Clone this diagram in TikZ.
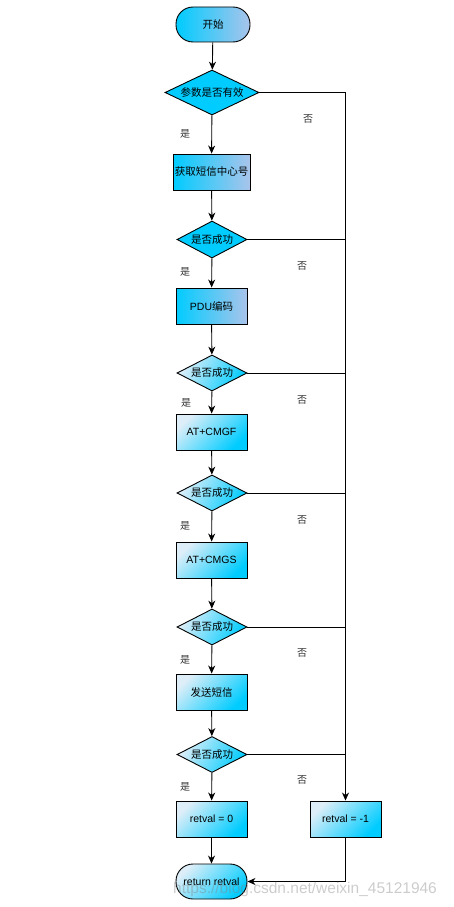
\documentclass[tikz,border=0pt]{standalone}
\usepackage{fontspec}
\setmainfont{Liberation Sans}
\newfontfamily\cjk{Noto Sans CJK SC}
\usetikzlibrary{shapes.geometric,arrows.meta}
\definecolor{cy}{HTML}{00CCFF}
\definecolor{lp}{HTML}{A9C4EB}
\definecolor{lw}{HTML}{DDEEF8}
\begin{document}
\begin{tikzpicture}[x=1pt,y=-1pt,
  every node/.style={font=\fontsize{10.5}{12}\selectfont, inner sep=0pt},
  base/.style={draw=black, line width=0.9pt},
  termA/.style={base, rectangle, rounded corners=17pt, minimum width=74pt, minimum height=35pt, left color=cy, right color=lp},
  termB/.style={base, rectangle, rounded corners=17pt, minimum width=71pt, minimum height=35pt, top color=lw, bottom color=cy, shading angle=45},
  boxA/.style={base, rectangle, minimum width=71pt, minimum height=36pt, left color=cy, right color=lp},
  boxB/.style={base, rectangle, minimum width=71pt, minimum height=36pt, top color=lw, bottom color=cy, shading angle=45},
  decS/.style={base, diamond, aspect=1.9, minimum width=70pt, minimum height=37pt, fill=cy},
  decB/.style={base, diamond, aspect=1.9, minimum width=70pt, minimum height=36pt, top color=lw, bottom color=cy, shading angle=60},
  lab/.style={font=\cjk\fontsize{10}{12}\selectfont, text=black!80},
  flow/.style={line width=0.9pt, -{Stealth[length=8pt,width=7pt,inset=2.5pt]}},
  ln/.style={line width=0.9pt}]
\useasboundingbox (0,0) rectangle (454,907);

\node[termA] (start) at (213,24.5) {\cjk 开始};
\node[decS, minimum width=94pt, minimum height=45pt, aspect=2.1] (d1) at (212,92.5) {\cjk 参数是否有效};
\node[boxA, minimum width=77pt] (b1) at (211.5,172) {\cjk 获取短信中心号};
\node[decS] (d2) at (212,239.5) {\cjk 是否成功};
\node[boxA] (b2) at (211.5,306) {PDU\cjk 编码};
\node[decB] (d3) at (212,373) {\cjk 是否成功};
\node[boxB] (b3) at (211.5,432) {AT+CMGF};
\node[decB] (d4) at (212,493) {\cjk 是否成功};
\node[boxB] (b4) at (211.5,560) {AT+CMGS};
\node[decB] (d5) at (212,627) {\cjk 是否成功};
\node[boxB] (b5) at (211.5,692) {\cjk 发送短信};
\node[decB] (d6) at (212,754.5) {\cjk 是否成功};
\node[boxB] (b6) at (211.5,819) {retval = 0};
\node[boxB] (b7) at (345.5,819) {retval = -1};
\node[termB] (end) at (211.5,881.5) {return retval};

\draw[flow] (start) -- (d1);
\draw[flow] (d1) -- (b1);
\draw[flow] (b1) -- (d2);
\draw[flow] (d2) -- (b2);
\draw[flow] (b2) -- (d3);
\draw[flow] (d3) -- (b3);
\draw[flow] (b3) -- (d4);
\draw[flow] (d4) -- (b4);
\draw[flow] (b4) -- (d5);
\draw[flow] (d5) -- (b5);
\draw[flow] (b5) -- (d6);
\draw[flow] (d6) -- (b6);
\draw[flow] (b6) -- (end);

\draw[flow] (d1.east) -| (b7.north);
\draw[ln] (d2.east) -- (d2.east -| b7.north);
\draw[ln] (d3.east) -- (d3.east -| b7.north);
\draw[ln] (d4.east) -- (d4.east -| b7.north);
\draw[ln] (d5.east) -- (d5.east -| b7.north);
\draw[ln] (d6.east) -- (d6.east -| b7.north);
\draw[flow] (b7.south) |- (end.east);

\node[lab] (y1) at (185,134) {是};
\node[lab] (n1) at (308,119) {否};
\node[lab] (y2) at (185,272) {是};
\node[lab] (n2) at (302,266) {否};
\node[lab] (y3) at (186,403) {是};
\node[lab] (n3) at (302,400) {否};
\node[lab] (y4) at (185,526) {是};
\node[lab] (n4) at (302,520) {否};
\node[lab] (y5) at (185,660) {是};
\node[lab] (n5) at (302,653) {否};
\node[lab] (y6) at (185,787) {是};
\node[lab] (n6) at (302,780) {否};

\node[font=\fontsize{15.5}{18}\selectfont, text=gray, opacity=0.4, anchor=west] (wm) at (173,889) {https://blog.csdn.net/weixin\_45121946};
\end{tikzpicture}
\end{document}
